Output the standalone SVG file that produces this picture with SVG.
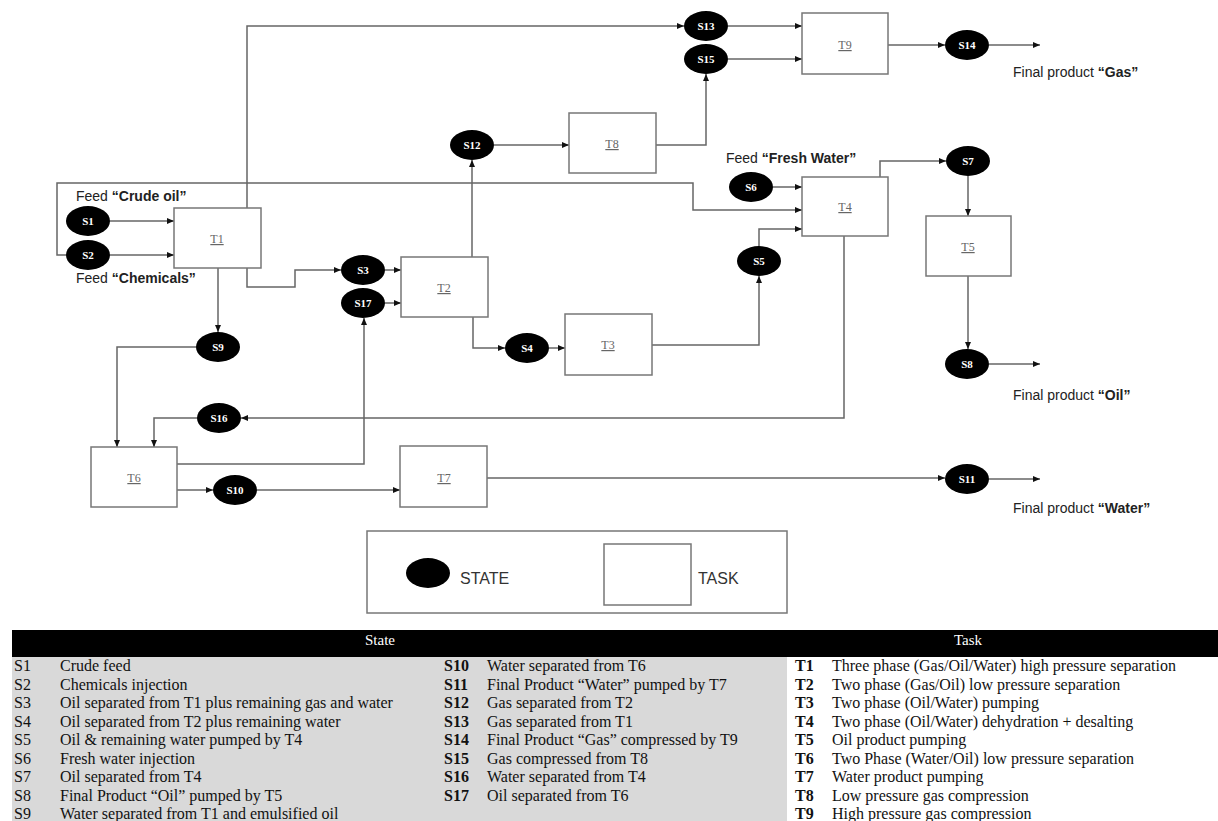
<svg xmlns="http://www.w3.org/2000/svg" width="1218" height="821" viewBox="0 0 1218 821">
<defs>
<marker id="arr" markerUnits="userSpaceOnUse" markerWidth="7" markerHeight="6" refX="7" refY="3" orient="auto">
<path d="M0,0 L7,3 L0,6 z" fill="#111"/>
</marker>
</defs>
<style>
.st ellipse{fill:#000}
.st text{fill:#fff;font-family:"Liberation Serif",serif;font-weight:bold;font-size:11px;text-anchor:middle}
.tk rect{fill:#fff;stroke:#777;stroke-width:1.5}
.tk text{fill:#666;font-family:"Liberation Serif",serif;font-size:12px;text-anchor:middle;text-decoration:underline}
.cn path{fill:none;stroke:#666;stroke-width:1.5;marker-end:url(#arr)}
.lbl{font-family:"Liberation Sans",sans-serif;font-size:14px;fill:#222}
.lbl tspan.b{font-weight:bold}
.tb{font-family:"Liberation Serif",serif;font-size:16px;fill:#111}
.tb .b{font-weight:bold}
.hd{font-family:"Liberation Serif",serif;font-size:15px;fill:#fff;text-anchor:middle}
.lg{font-family:"Liberation Sans",sans-serif;font-size:16px;fill:#333}
</style>
<rect width="1218" height="821" fill="#fff"/>

<g id="connectors" class="cn">
<path d="M110,221 H174"/>
<path d="M110,255 H174"/>
<path d="M66,255 H57 V183 H693 V210 H802"/>
<path d="M247,208 V26 H684"/>
<path d="M728,26 H802"/>
<path d="M728,59 H802"/>
<path d="M656,145 H706 V74"/>
<path d="M888,45 H945"/>
<path d="M989,45 H1040"/>
<path d="M247,268 V287 H295 V270 H341"/>
<path d="M218,268 V332"/>
<path d="M385,270 H401"/>
<path d="M385,303 H401"/>
<path d="M472,257 V160"/>
<path d="M494,145 H569"/>
<path d="M473,317 V348 H505"/>
<path d="M549,348 H565"/>
<path d="M652,345 H759 V276"/>
<path d="M759,246 V229 H802"/>
<path d="M773,187 H802"/>
<path d="M880,177 V161 H946"/>
<path d="M968,176 V216"/>
<path d="M968,276 V349"/>
<path d="M989,364 H1040"/>
<path d="M844,236 V418 H241"/>
<path d="M197,418 H154 V447"/>
<path d="M196,347 H117 V447"/>
<path d="M177,464 H364 V318"/>
<path d="M177,490 H213"/>
<path d="M257,490 H400"/>
<path d="M487,478 H945"/>
<path d="M989,479 H1040"/>
</g>

<g id="T1" class="tk"><rect x="174" y="208" width="87" height="60"/><text x="217" y="243">T1</text></g>
<g id="T2" class="tk"><rect x="401" y="257" width="87" height="60"/><text x="444" y="292">T2</text></g>
<g id="T3" class="tk"><rect x="565" y="314" width="87" height="61"/><text x="608" y="349">T3</text></g>
<g id="T4" class="tk"><rect x="802" y="177" width="86" height="59"/><text x="845" y="211">T4</text></g>
<g id="T5" class="tk"><rect x="926" y="216" width="85" height="60"/><text x="968" y="251">T5</text></g>
<g id="T6" class="tk"><rect x="91" y="447" width="86" height="60"/><text x="134" y="482">T6</text></g>
<g id="T7" class="tk"><rect x="400" y="446" width="87" height="61"/><text x="444" y="482">T7</text></g>
<g id="T8" class="tk"><rect x="569" y="113" width="87" height="60"/><text x="612" y="148">T8</text></g>
<g id="T9" class="tk"><rect x="802" y="13" width="86" height="61"/><text x="845" y="49">T9</text></g>

<g id="S1" class="st"><ellipse cx="88" cy="221" rx="22" ry="15"/><text x="88" y="225">S1</text></g>
<g id="S2" class="st"><ellipse cx="88" cy="255" rx="22" ry="15"/><text x="88" y="259">S2</text></g>
<g id="S3" class="st"><ellipse cx="363" cy="270" rx="22" ry="15"/><text x="363" y="274">S3</text></g>
<g id="S4" class="st"><ellipse cx="527" cy="348" rx="22" ry="15"/><text x="527" y="352">S4</text></g>
<g id="S5" class="st"><ellipse cx="759" cy="261" rx="22" ry="15"/><text x="759" y="265">S5</text></g>
<g id="S6" class="st"><ellipse cx="751" cy="187" rx="22" ry="15"/><text x="751" y="191">S6</text></g>
<g id="S7" class="st"><ellipse cx="968" cy="161" rx="22" ry="15"/><text x="968" y="165">S7</text></g>
<g id="S8" class="st"><ellipse cx="967" cy="364" rx="22" ry="15"/><text x="967" y="368">S8</text></g>
<g id="S9" class="st"><ellipse cx="218" cy="347" rx="22" ry="15"/><text x="218" y="351">S9</text></g>
<g id="S10" class="st"><ellipse cx="235" cy="490" rx="22" ry="15"/><text x="235" y="494">S10</text></g>
<g id="S11" class="st"><ellipse cx="967" cy="479" rx="22" ry="15"/><text x="967" y="483">S11</text></g>
<g id="S12" class="st"><ellipse cx="472" cy="145" rx="22" ry="15"/><text x="472" y="149">S12</text></g>
<g id="S13" class="st"><ellipse cx="706" cy="26" rx="22" ry="15"/><text x="706" y="30">S13</text></g>
<g id="S14" class="st"><ellipse cx="967" cy="45" rx="22" ry="15"/><text x="967" y="49">S14</text></g>
<g id="S15" class="st"><ellipse cx="706" cy="59" rx="22" ry="15"/><text x="706" y="63">S15</text></g>
<g id="S16" class="st"><ellipse cx="219" cy="418" rx="22" ry="15"/><text x="219" y="422">S16</text></g>
<g id="S17" class="st"><ellipse cx="363" cy="303" rx="22" ry="15"/><text x="363" y="307">S17</text></g>

<g id="labels">
<text class="lbl" x="76" y="201">Feed <tspan class="b">“Crude oil”</tspan></text>
<text class="lbl" x="76" y="283">Feed <tspan class="b">“Chemicals”</tspan></text>
<text class="lbl" x="726" y="163">Feed <tspan class="b">“Fresh Water”</tspan></text>
<text class="lbl" x="1013" y="77">Final product <tspan class="b">“Gas”</tspan></text>
<text class="lbl" x="1013" y="400">Final product <tspan class="b">“Oil”</tspan></text>
<text class="lbl" x="1013" y="513">Final product <tspan class="b">“Water”</tspan></text>
</g>

<g id="legend">
<rect x="367" y="531" width="420" height="82" fill="#fff" stroke="#777" stroke-width="1.5"/>
<ellipse cx="428" cy="573" rx="22" ry="15" fill="#000"/>
<text class="lg" x="460" y="584">STATE</text>
<rect x="604" y="544" width="87" height="61" fill="#fff" stroke="#777" stroke-width="1.5"/>
<text class="lg" x="698" y="584">TASK</text>
</g>

<g id="table">
<rect x="12" y="630" width="1206" height="27" fill="#000"/>
<rect x="12" y="657" width="775" height="164" fill="#d9d9d9"/>
<text class="hd" x="380" y="645">State</text>
<text class="hd" x="968" y="645">Task</text>
<g class="tb">
<text x="14" y="671">S1</text><text x="60" y="671">Crude feed</text>
<text x="14" y="689.5">S2</text><text x="60" y="689.5">Chemicals injection</text>
<text x="14" y="708">S3</text><text x="60" y="708">Oil separated from T1 plus remaining gas and water</text>
<text x="14" y="726.5">S4</text><text x="60" y="726.5">Oil separated from T2 plus remaining water</text>
<text x="14" y="745">S5</text><text x="60" y="745">Oil &amp; remaining water pumped by T4</text>
<text x="14" y="763.5">S6</text><text x="60" y="763.5">Fresh water injection</text>
<text x="14" y="782">S7</text><text x="60" y="782">Oil separated from T4</text>
<text x="14" y="800.5">S8</text><text x="60" y="800.5">Final Product “Oil” pumped by T5</text>
<text x="14" y="819">S9</text><text x="60" y="819">Water separated from T1 and emulsified oil</text>

<text class="b" x="444" y="671">S10</text><text x="487" y="671">Water separated from T6</text>
<text class="b" x="444" y="689.5">S11</text><text x="487" y="689.5">Final Product “Water” pumped by T7</text>
<text class="b" x="444" y="708">S12</text><text x="487" y="708">Gas separated from T2</text>
<text class="b" x="444" y="726.5">S13</text><text x="487" y="726.5">Gas separated from T1</text>
<text class="b" x="444" y="745">S14</text><text x="487" y="745">Final Product “Gas” compressed by T9</text>
<text class="b" x="444" y="763.5">S15</text><text x="487" y="763.5">Gas compressed from T8</text>
<text class="b" x="444" y="782">S16</text><text x="487" y="782">Water separated from T4</text>
<text class="b" x="444" y="800.5">S17</text><text x="487" y="800.5">Oil separated from T6</text>

<text class="b" x="795" y="671">T1</text><text x="832" y="671">Three phase (Gas/Oil/Water) high pressure separation</text>
<text class="b" x="795" y="689.5">T2</text><text x="832" y="689.5">Two phase (Gas/Oil) low pressure separation</text>
<text class="b" x="795" y="708">T3</text><text x="832" y="708">Two phase (Oil/Water) pumping</text>
<text class="b" x="795" y="726.5">T4</text><text x="832" y="726.5">Two phase (Oil/Water) dehydration + desalting</text>
<text class="b" x="795" y="745">T5</text><text x="832" y="745">Oil product pumping</text>
<text class="b" x="795" y="763.5">T6</text><text x="832" y="763.5">Two Phase (Water/Oil) low pressure separation</text>
<text class="b" x="795" y="782">T7</text><text x="832" y="782">Water product pumping</text>
<text class="b" x="795" y="800.5">T8</text><text x="832" y="800.5">Low pressure gas compression</text>
<text class="b" x="795" y="819">T9</text><text x="832" y="819">High pressure gas compression</text>
</g>
</g>
</svg>
